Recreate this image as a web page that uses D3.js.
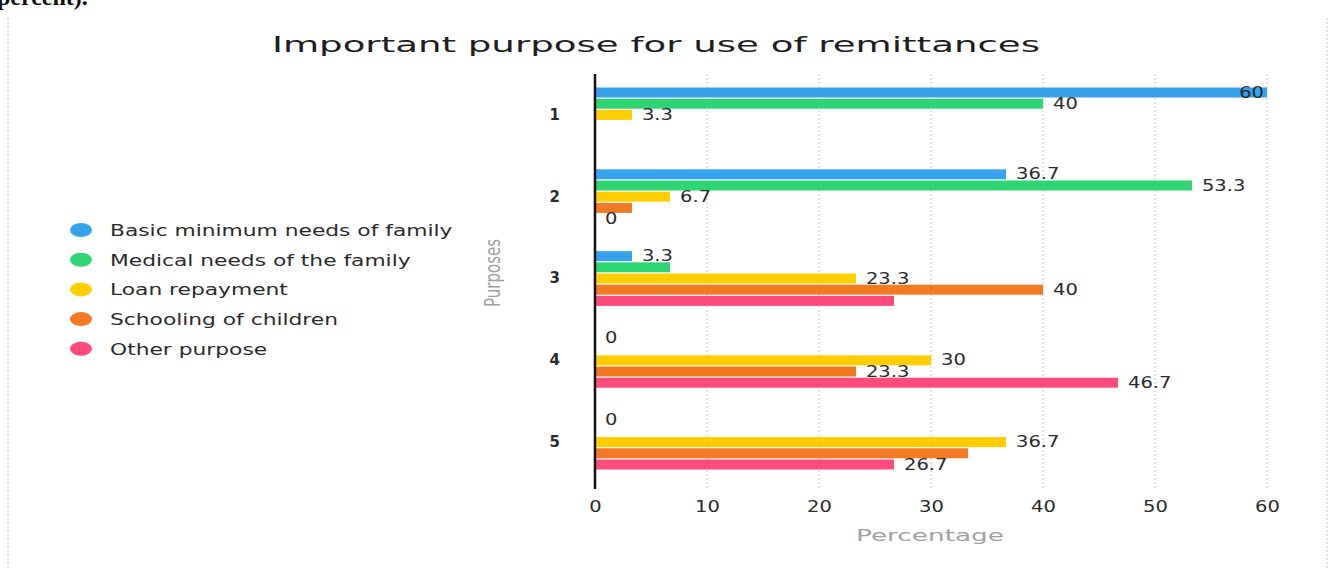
<!DOCTYPE html>
<html>
<head>
    <meta charset="utf-8" />
    <style>
        body { margin: 0; background: #fff; }
        svg { display: block; }
        text { font-family: "DejaVu Sans", sans-serif; }
        .grid line { stroke: #c8c8c8; stroke-dasharray: 2,2; }
        .lbl { font-size: 15px; fill: #2a2a2a; }
        .tick-lbl { font-size: 15px; fill: #2a2a2a; }
        .leg { font-size: 16px; fill: #2a2a2a; }
        .axis-title { font-size: 16px; fill: #a0a0a0; }
    </style>
    <script src="https://d3js.org/d3.v7.min.js"></script>
</head>
<body>
<script>

// data
let categories = ["1", "2", "3", "4", "5"];
let seriesNames = [
    "Basic minimum needs of family",
    "Medical needs of the family",
    "Loan repayment",
    "Schooling of children",
    "Other purpose"
];
let basicNeeds   = [60, 36.7, 3.3, 0, 0];
let medicalNeeds = [40, 53.3, 6.7, 0, 0];
let loanRepay    = [3.3, 6.7, 23.3, 30, 36.7];
let schooling    = [null, 3.3, 40, 23.3, 33.3];
let otherPurpose = [null, 0, 26.7, 46.7, 26.7];
let xTicks = [0, 10, 20, 30, 40, 50, 60];

let seriesValues = [basicNeeds, medicalNeeds, loanRepay, schooling, otherPurpose];
let colors = ["#36a2eb", "#2ed573", "#ffcd00", "#f27a22", "#ff4a7c"];

let W = 1330, H = 568;
let plot = { left: 595, right: 1267, top: 74, bottom: 483 };

// the scanned chart is stretched sideways, so text is widened too
let stretchK = 1.3;
function stretch(sel, k) {
    sel.each(function() {
        let len = this.getComputedTextLength();
        d3.select(this)
            .attr("textLength", len * k)
            .attr("lengthAdjust", "spacingAndGlyphs");
    });
}

let svg = d3.select("body").append("svg")
    .attr("width", W)
    .attr("height", H);

// page bits around the chart
svg.append("text")
    .attr("x", -3).attr("y", 5)
    .style("font-family", "'Liberation Serif', serif")
    .style("font-size", "24px")
    .style("font-weight", "bold")
    .attr("fill", "#111")
    .text("percent).");

[8, 1327].forEach(x => {
    svg.append("line")
        .attr("x1", x).attr("x2", x)
        .attr("y1", 18).attr("y2", H)
        .attr("stroke", "#c8c8c8")
        .attr("stroke-dasharray", "2,2");
});

// title
svg.append("text")
    .attr("x", 656).attr("y", 52)
    .attr("text-anchor", "middle")
    .attr("textLength", 768)
    .attr("lengthAdjust", "spacingAndGlyphs")
    .style("font-size", "21px")
    .attr("fill", "#1e1e1e")
    .text("Important purpose for use of remittances");

// scales
let xScale = d3.scaleLinear()
    .domain([0, 60])
    .range([plot.left, plot.right]);

let yScale = d3.scaleBand()
    .domain(categories)
    .range([plot.top, plot.bottom]);

let inner = d3.scaleBand()
    .domain(d3.range(seriesNames.length))
    .range([-28, 28]);

let barH = 10;

// vertical grid
svg.append("g")
    .attr("class", "grid")
    .selectAll("line")
    .data(xTicks.slice(1))
    .enter()
    .append("line")
    .attr("x1", d => xScale(d)).attr("x2", d => xScale(d))
    .attr("y1", plot.top).attr("y2", plot.bottom + 6);

// x axis labels
let xAxis = d3.axisBottom(xScale)
    .tickValues(xTicks)
    .tickSize(0)
    .tickPadding(12);

let gx = svg.append("g")
    .attr("transform", "translate(0," + (plot.bottom + 6) + ")")
    .call(xAxis);
gx.select(".domain").remove();
gx.attr("font-size", null).attr("font-family", null);
gx.selectAll("text").attr("class", "tick-lbl").attr("fill", null);
stretch(gx.selectAll("text"), stretchK);

// y axis
let yAxis = d3.axisLeft(yScale)
    .tickSize(0)
    .tickPadding(35);

let gy = svg.append("g")
    .attr("transform", "translate(" + plot.left + ",0)")
    .call(yAxis);
gy.select(".domain").remove();
gy.attr("font-size", null).attr("font-family", null);
gy.selectAll("text").attr("class", "tick-lbl").attr("fill", null)
    .style("font-weight", "bold");

// bars
let bars = [];
seriesValues.forEach((vals, s) => {
    vals.forEach((v, i) => {
        if (v === null) return;
        bars.push({ s: s, cat: categories[i], v: v });
    });
});

svg.append("g")
    .selectAll("rect")
    .data(bars)
    .enter()
    .append("rect")
    .attr("x", xScale(0))
    .attr("y", d => yScale(d.cat) + yScale.bandwidth() / 2 + inner(d.s) + (inner.bandwidth() - barH) / 2)
    .attr("width", d => xScale(d.v) - xScale(0))
    .attr("height", barH)
    .attr("fill", d => colors[d.s]);

// axis line on top of bars
svg.append("line")
    .attr("x1", plot.left).attr("x2", plot.left)
    .attr("y1", plot.top).attr("y2", plot.bottom + 6)
    .attr("stroke", "#111")
    .attr("stroke-width", 2.5);

// value labels, hide ones that collide (earlier series win)
let placed = [];
let lblG = svg.append("g");
bars.forEach(d => {
    let cy = yScale(d.cat) + yScale.bandwidth() / 2 + inner(d.s) + inner.bandwidth() / 2;
    let x = xScale(d.v) + 10;
    let t = lblG.append("text")
        .attr("class", "lbl")
        .attr("x", x)
        .attr("y", cy + 5)
        .text(d.v);
    let w = t.node().getComputedTextLength() * stretchK;
    t.attr("textLength", w).attr("lengthAdjust", "spacingAndGlyphs");
    if (x + w > plot.right) {
        x = plot.right - w - 3;
        t.attr("x", x);
    }
    let box = { x0: x - 5, x1: x + w + 5, y0: cy - 12, y1: cy + 12 };
    let hit = placed.some(b => box.x0 < b.x1 && box.x1 > b.x0 && box.y0 < b.y1 && box.y1 > b.y0);
    if (hit) { t.remove(); return; }
    placed.push(box);
});

// axis titles
svg.append("text")
    .attr("class", "axis-title")
    .attr("transform", "translate(500,273) rotate(-90)")
    .attr("text-anchor", "middle")
    .attr("textLength", 68)
    .attr("lengthAdjust", "spacingAndGlyphs")
    .style("font-size", "21px")
    .text("Purposes");

svg.append("text")
    .attr("class", "axis-title")
    .attr("x", 930).attr("y", 541)
    .attr("text-anchor", "middle")
    .attr("textLength", 148)
    .attr("lengthAdjust", "spacingAndGlyphs")
    .text("Percentage");

// legend
let leg = svg.append("g")
    .selectAll("g")
    .data(seriesNames)
    .enter()
    .append("g")
    .attr("transform", (d, i) => "translate(81," + (230 + i * 29.7) + ")");

leg.append("ellipse")
    .attr("rx", 11).attr("ry", 7)
    .attr("fill", (d, i) => colors[i]);

leg.append("text")
    .attr("class", "leg")
    .attr("x", 29).attr("y", 6)
    .text(d => d);

stretch(leg.selectAll("text"), 1.36);

</script>
</body>
</html>
